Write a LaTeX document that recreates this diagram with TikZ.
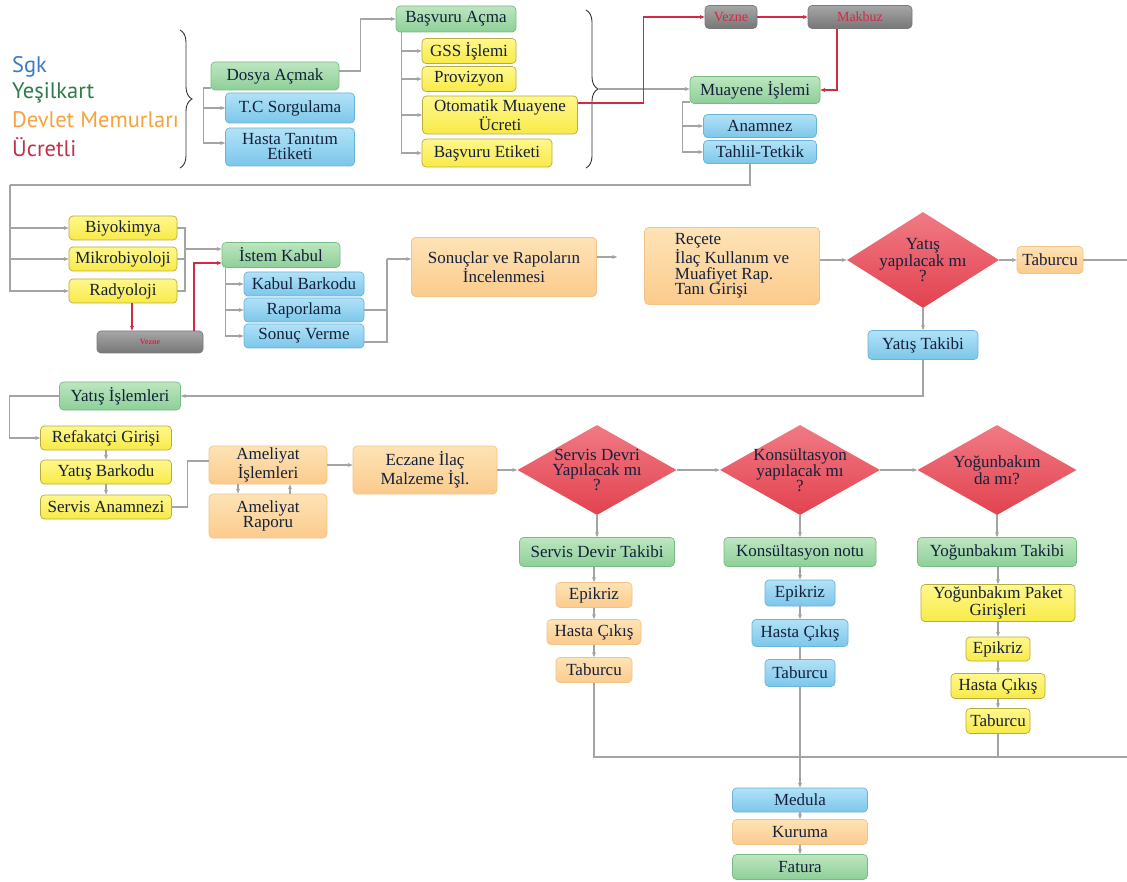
\documentclass[tikz,border=0pt]{standalone}
\usepackage{fontspec}
\setmainfont{Liberation Serif}
\newfontfamily\legfont{PT Sans}
\usetikzlibrary{shapes.geometric,arrows.meta,decorations.pathreplacing}
\definecolor{txt}{HTML}{14203A}
\definecolor{ln}{HTML}{A4A4A4}
\definecolor{rd}{HTML}{D22A44}
\definecolor{gT}{HTML}{BDE6C0}\definecolor{gB}{HTML}{8ECF98}\definecolor{gD}{HTML}{78BC84}
\definecolor{bT}{HTML}{B2E2F7}\definecolor{bB}{HTML}{7CC6EA}\definecolor{bD}{HTML}{6AB3DA}
\definecolor{yT}{HTML}{FFF88C}\definecolor{yB}{HTML}{F8EA48}\definecolor{yD}{HTML}{B8AC3E}
\definecolor{oT}{HTML}{FEE3B6}\definecolor{oB}{HTML}{FBCB8C}\definecolor{oD}{HTML}{F3C48A}
\definecolor{kT}{HTML}{A6A6A6}\definecolor{kB}{HTML}{777777}\definecolor{kD}{HTML}{7A7A7A}
\definecolor{rT}{HTML}{F07A84}\definecolor{rB}{HTML}{E2424F}
\definecolor{lgB}{HTML}{3B7CC2}\definecolor{lgG}{HTML}{2E7B4C}\definecolor{lgO}{HTML}{F5A33C}\definecolor{lgR}{HTML}{C2304C}
\tikzset{
  bx/.style={rectangle, rounded corners=4pt, line width=0.7pt, inner sep=1pt, align=center,
    font=\fontsize{17}{15}\selectfont, text=txt},
  gb/.style={bx, draw=gD, top color=gT, bottom color=gB},
  bb/.style={bx, draw=bD, top color=bT, bottom color=bB},
  yb/.style={bx, draw=yD, top color=yT, bottom color=yB},
  ob/.style={bx, draw=oD, top color=oT, bottom color=oB},
  kb/.style={bx, draw=kD, top color=kT, bottom color=kB, text=rd},
  dm/.style={diamond, inner sep=-14pt, top color=rT, bottom color=rB, align=center,
    font=\fontsize{17}{15}\selectfont, text=txt},
  sz/.style 2 args={minimum width=#1pt, minimum height=#2pt},
  garr/.style={draw=ln, line width=1.1pt, -{Stealth[length=5pt,width=4pt]}},
  gline/.style={draw=ln, line width=1.1pt},
  rarr/.style={draw=rd, line width=1.1pt, -{Stealth[length=5pt,width=4pt]}},
  brc/.style={draw=black!80, line width=0.9pt, decorate, decoration={brace, amplitude=12pt}},
  leg/.style={anchor=west, inner sep=0pt, font=\legfont\fontsize{22.5}{24}\selectfont}
}
\begin{document}
\begin{tikzpicture}[x=1pt,y=-1pt]
\useasboundingbox[fill=white] (0,0) rectangle (1127,882);
% legend
\node[leg, text=lgB] (l1) at (12,67) {Sgk};
\node[leg, text=lgG] (l2) at (12,93) {Yeşilkart};
\node[leg, text=lgO] (l3) at (12,120) {Devlet Memurları};
\node[leg, text=lgR] (l4) at (12,147) {Ücretli};
\draw[brc] (180,30) -- (180,168);
\draw[brc] (586,10) -- (586,168);
\coordinate (b2) at (599,89);
% top row
\node[gb, sz={128}{28}] (dos) at (275,76) {Dosya Açmak};
\node[bb, sz={129}{30}] (tc) at (290,108) {T.C Sorgulama};
\node[bb, sz={129}{38}] (hasta) at (290,147) {Hasta Tanıtım\\Etiketi};
\node[gb, sz={120}{26}] (bas) at (456,19) {Başvuru Açma};
\node[yb, sz={94}{25}] (gss) at (469,51) {GSS İşlemi};
\node[yb, sz={94}{25}] (prov) at (469,79) {Provizyon};
\node[yb, sz={155}{38}] (oto) at (500,115) {Otomatik Muayene\\Ücreti};
\node[yb, sz={130}{28}] (bet) at (487,153) {Başvuru Etiketi};
\node[kb, sz={52}{23}, font=\fontsize{14}{14}\selectfont] (vez1) at (731,17) {Vezne};
\node[kb, sz={104}{23}, font=\fontsize{14}{14}\selectfont] (mak) at (860,17) {Makbuz};
\node[gb, sz={130}{27}] (mua) at (755,90) {Muayene İşlemi};
\node[bb, sz={113}{23}] (ana) at (760,126) {Anamnez};
\node[bb, sz={113}{23}] (tah) at (760,152) {Tahlil-Tetkik};
% second row
\node[yb, sz={108}{24}] (biy) at (123,228) {Biyokimya};
\node[yb, sz={108}{24}] (mik) at (123,259) {Mikrobiyoloji};
\node[yb, sz={108}{24}] (rad) at (123,291) {Radyoloji};
\node[kb, sz={106}{22}, font=\fontsize{8}{8}\selectfont\bfseries] (vez2) at (150,342) {Vezne};
\node[gb, sz={118}{25}] (ist) at (281,255) {İstem Kabul};
\node[bb, sz={120}{24}] (kab) at (304,284) {Kabul Barkodu};
\node[bb, sz={120}{24}] (rap) at (304,310) {Raporlama};
\node[bb, sz={120}{24}] (son) at (304,336) {Sonuç Verme};
\node[ob, sz={185}{59}] (sonuc) at (504,267) {Sonuçlar ve Rapoların\\İncelenmesi};
\node[ob, sz={175}{77}, align=left] (rec) at (732,266) {Reçete\\İlaç Kullanım ve\\Muafiyet Rap.\\Tanı Girişi};
\node[dm, sz={152}{96}] (dia1) at (923,260) {Yatış\\yapılacak mı\\?};
\node[ob, sz={66}{27}] (tab1) at (1050,260) {Taburcu};
\node[bb, sz={110}{29}] (yt) at (923,345) {Yatış Takibi};
% third row
\node[gb, sz={121}{28}] (yi) at (120,396) {Yatış İşlemleri};
\node[yb, sz={131}{24}] (ref) at (106,438) {Refakatçi Girişi};
\node[yb, sz={131}{24}] (ybk) at (106,472) {Yatış Barkodu};
\node[yb, sz={131}{24}] (sa) at (106,507) {Servis Anamnezi};
\node[ob, sz={118}{38}] (ai) at (268,465) {Ameliyat\\İşlemleri};
\node[ob, sz={118}{44}] (ar) at (268,516) {Ameliyat\\Raporu};
\node[ob, sz={144}{48}] (ecz) at (425,470) {Eczane İlaç\\Malzeme İşl.};
\node[dm, sz={159}{90}] (dia2) at (597,470) {Servis Devri\\Yapılacak mı\\?};
\node[dm, sz={160}{90}] (dia3) at (800,470) {Konsültasyon\\yapılacak mı\\?};
\node[dm, sz={159}{90}] (dia4) at (997,470) {Yoğunbakım\\da mı?};
\node[gb, sz={155}{29}] (sdt) at (597,552) {Servis Devir Takibi};
\node[gb, sz={152}{29}] (kn) at (800,552) {Konsültasyon notu};
\node[gb, sz={159}{29}] (ybt) at (997,552) {Yoğunbakım Takibi};
\node[ob, sz={76}{25}] (e1) at (594,595) {Epikriz};
\node[ob, sz={94}{25}] (hc1) at (594,632) {Hasta Çıkış};
\node[ob, sz={76}{25}] (t1) at (594,670) {Taburcu};
\node[bb, sz={70}{26}] (e2) at (800,593) {Epikriz};
\node[bb, sz={96}{27}] (hc2) at (800,633) {Hasta Çıkış};
\node[bb, sz={70}{27}] (t2) at (800,673) {Taburcu};
\node[yb, sz={154}{37}] (ypg) at (998,603) {Yoğunbakım Paket\\Girişleri};
\node[yb, sz={64}{24}] (e3) at (998,649) {Epikriz};
\node[yb, sz={94}{25}] (hc3) at (998,686) {Hasta Çıkış};
\node[yb, sz={64}{25}] (t3) at (998,721) {Taburcu};
\node[bb, sz={135}{24}] (med) at (800,800) {Medula};
\node[ob, sz={135}{25}] (kur) at (800,832) {Kuruma};
\node[gb, sz={135}{25}] (fat) at (800,867) {Fatura};
% coordinates
\coordinate (L1) at (10,185);
\coordinate (J1) at (185,249);
\coordinate (J2) at (387,259);
\coordinate (R1) at (1127,260);
\coordinate (B1) at (1127,757);
% connectors top
\draw[garr] ([yshift=5pt]dos.east) -- ++(21,0) |- (bas.west);
\draw[garr] ([yshift=-12pt]dos.west) -- ++(-7,0) |- (tc.west);
\draw[garr] ([yshift=-12pt]dos.west) -- ++(-7,0) |- ([yshift=4pt]hasta.west);
\draw[garr] ([xshift=6pt]bas.south west) |- (gss.west);
\draw[garr] ([xshift=6pt]bas.south west) |- (prov.west);
\draw[garr] ([xshift=6pt]bas.south west) |- (oto.west);
\draw[garr] ([xshift=6pt]bas.south west) |- (bet.west);
\draw[garr] (b2) -- (b2 -| mua.west);
\draw[rarr] ([yshift=12pt]oto.east) -- ++(66,0) |- (vez1.west);
\draw[rarr] (vez1.east) -- (mak.west);
\draw[rarr] ([xshift=-23pt]mak.south) |- (mua.east);
\draw[garr] ([yshift=-12pt]mua.west) -- ++(-7,0) |- (ana.west);
\draw[garr] ([yshift=-12pt]mua.west) -- ++(-7,0) |- (tah.west);
\draw[gline] ([xshift=-10pt]tah.south) |- (L1);
\draw[garr] (L1) |- (biy.west);
\draw[garr] (L1) |- (mik.west);
\draw[garr] (L1) |- (rad.west);
% second row
\draw[gline] (biy.east) -| (J1);
\draw[gline] (rad.east) -| (J1);
\draw[gline] (mik.east) -- (mik.east -| J1);
\draw[garr] (J1) -- (J1 -| ist.west);
\draw[rarr] ([xshift=9pt]rad.south) -- ([xshift=9pt]rad.south |- vez2.north);
\draw[rarr] ([xshift=44pt]vez2.north) |- ([yshift=-8pt]ist.west);
\draw[garr] ([xshift=4pt]ist.south west) |- (kab.west);
\draw[garr] ([xshift=4pt]ist.south west) |- (rap.west);
\draw[garr] ([xshift=4pt]ist.south west) |- (son.west);
\draw[gline] (rap.east) -- (rap.east -| J2);
\draw[gline] ([yshift=-6pt]son.east) -| (J2);
\draw[garr] (J2) -- (J2 -| sonuc.west);
\draw[garr, shorten >=27pt] ([yshift=10pt]sonuc.east) -- ([yshift=10pt]sonuc.east -| rec.west);
\draw[garr] (rec.east |- dia1.west) -- (dia1.west);
\draw[garr] (dia1.east) -- (tab1.west);
\draw[gline] (tab1.east) -- (R1);
\draw[garr] (dia1.south) -- (yt.north);
\draw[garr] (yt.south) |- (yi.east);
% third row
\draw[garr] (yi.west) -- ++(-50,0) |- (ref.west);
\draw[garr] (ref.south) -- (ybk.north);
\draw[garr] (ybk.south) -- (sa.north);
\draw[gline] (sa.east) -- ++(16,0) |- ([yshift=4pt]ai.west);
\draw[garr] ([xshift=-30pt]ai.south) -- ([xshift=-30pt]ar.north);
\draw[garr] ([xshift=22pt]ar.north) -- ([xshift=22pt]ai.south);
\draw[garr] (ai.east) -- (ai.east -| ecz.west);
\draw[garr] (ecz.east) -- (dia2.west);
\draw[garr] (dia2.east) -- (dia3.west);
\draw[garr] (dia3.east) -- (dia4.west);
\draw[garr] (dia2.south) -- (sdt.north);
\draw[garr] (dia3.south) -- (kn.north);
\draw[garr] (dia4.south) -- (ybt.north);
\draw[garr] (sdt.south -| e1.north) -- (e1.north);
\draw[garr] (e1.south) -- (hc1.north);
\draw[garr] (hc1.south) -- (t1.north);
\draw[garr] (kn.south) -- (e2.north);
\draw[garr] (e2.south) -- (hc2.north);
\draw[gline] (hc2.south) -- (t2.north);
\draw[garr] (ybt.south -| ypg.north) -- (ypg.north);
\draw[garr] (ypg.south) -- (e3.north);
\draw[garr] (e3.south) -- (hc3.north);
\draw[garr] (hc3.south) -- (t3.north);
\draw[gline] (t1.south) |- (B1);
\draw[gline] (t3.south) -- (t3.south |- B1);
\draw[garr] (t2.south) -- (med.north);
\draw[garr] (med.south) -- (kur.north);
\draw[garr] (kur.south) -- (fat.north);
\end{tikzpicture}
\end{document}
